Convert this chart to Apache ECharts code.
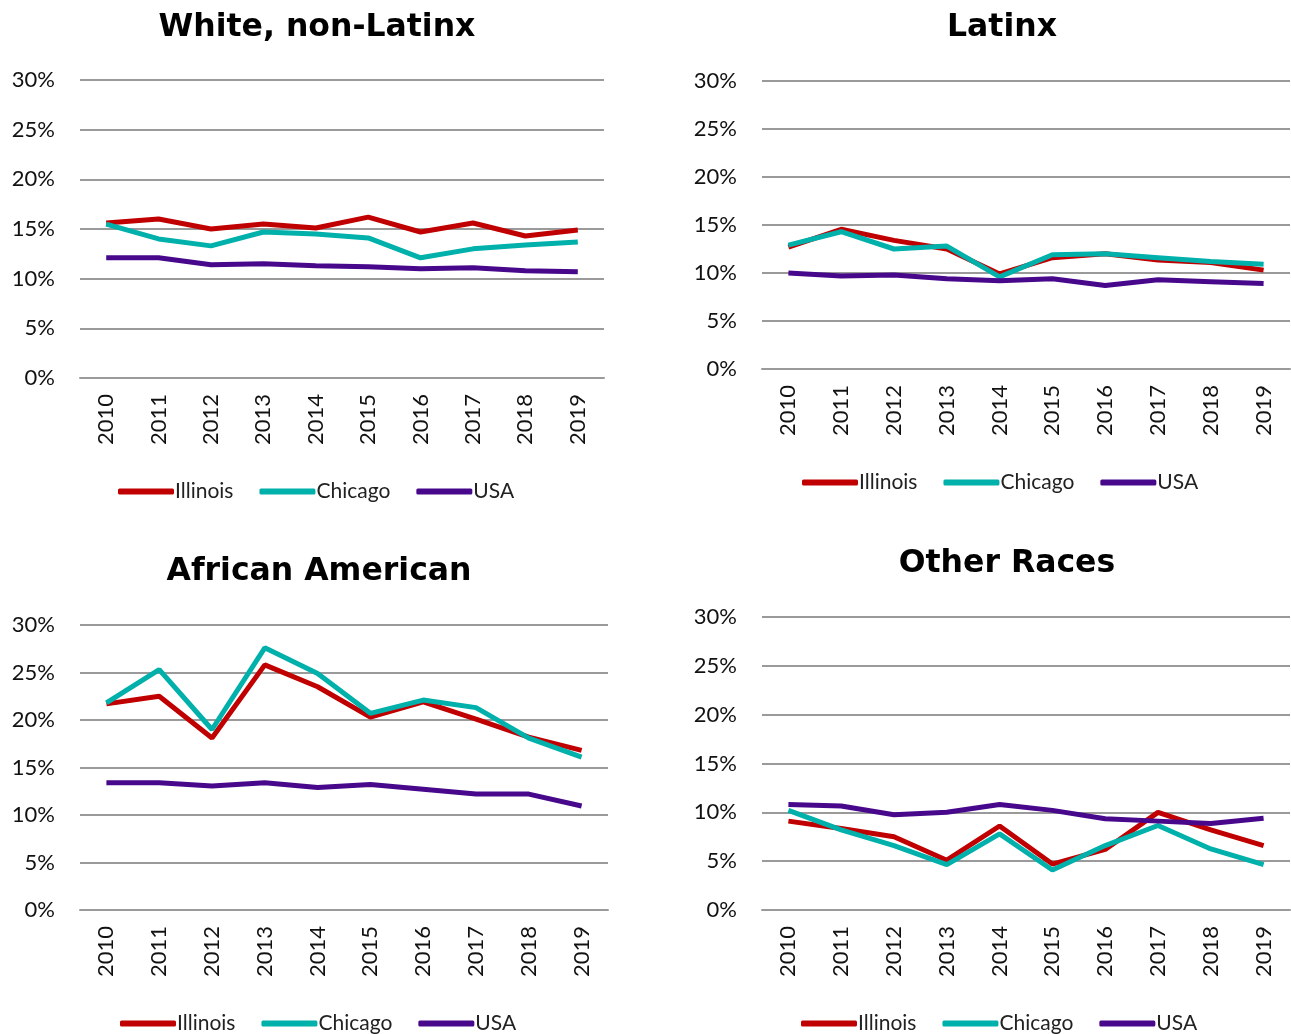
<!DOCTYPE html>
<html>
<head>
<meta charset="utf-8">
<script src="https://cdn.jsdelivr.net/npm/echarts@6/dist/echarts.min.js"></script>
<style>
  html, body { margin: 0; padding: 0; background: #fff; }
  #main { width: 1291px; height: 1034px; }
</style>
</head>
<body>
<div id="main"></div>
<script>
// data (percent)
const years = ['2010', '2011', '2012', '2013', '2014', '2015', '2016', '2017', '2018', '2019'];
const seriesNames = ['Illinois', 'Chicago', 'USA'];
const panelTitles = ['White, non-Latinx', 'Latinx', 'African American', 'Other Races'];

const whiteIllinois = [15.6, 16.0, 15.0, 15.5, 15.1, 16.2, 14.7, 15.6, 14.3, 14.9];
const whiteChicago = [15.5, 14.0, 13.3, 14.7, 14.5, 14.1, 12.1, 13.0, 13.4, 13.7];
const whiteUSA = [12.1, 12.1, 11.4, 11.5, 11.3, 11.2, 11.0, 11.1, 10.8, 10.7];

const latinxIllinois = [12.7, 14.55, 13.4, 12.5, 9.9, 11.6, 12.0, 11.35, 11.1, 10.3];
const latinxChicago = [12.9, 14.3, 12.5, 12.8, 9.6, 11.9, 12.0, 11.6, 11.2, 10.9];
const latinxUSA = [10.0, 9.7, 9.8, 9.4, 9.2, 9.4, 8.7, 9.3, 9.1, 8.9];

const africanIllinois = [21.7, 22.5, 18.1, 25.8, 23.5, 20.3, 21.9, 20.1, 18.2, 16.8];
const africanChicago = [21.8, 25.3, 19.0, 27.6, 24.9, 20.7, 22.1, 21.3, 18.1, 16.1];
const africanUSA = [13.4, 13.4, 13.05, 13.4, 12.9, 13.2, 12.7, 12.2, 12.2, 10.95];

const otherIllinois = [9.1, 8.35, 7.5, 5.1, 8.6, 4.7, 6.2, 10.0, 8.2, 6.6];
const otherChicago = [10.2, 8.2, 6.6, 4.65, 7.8, 4.1, 6.6, 8.65, 6.25, 4.65];
const otherUSA = [10.8, 10.65, 9.75, 10.0, 10.8, 10.2, 9.35, 9.1, 8.85, 9.4];

const yTicks = [0, 5, 10, 15, 20, 25, 30];

const panelData = [
    [whiteIllinois, whiteChicago, whiteUSA],
    [latinxIllinois, latinxChicago, latinxUSA],
    [africanIllinois, africanChicago, africanUSA],
    [otherIllinois, otherChicago, otherUSA]
];

const colors = ['#C00000', '#00B0AA', '#48088C'];
const font = 'Lato, "Open Sans", sans-serif';
const titleFont = '"DejaVu Sans", Verdana, sans-serif';

// plot areas: left, top, width, height
const grids = [
    { left: 80, top: 80, width: 524, height: 298 },
    { left: 762, top: 81, width: 528, height: 288 },
    { left: 80, top: 625, width: 528, height: 285 },
    { left: 762, top: 617, width: 528, height: 293 }
];
const titlePos = [
    { x: 312, y: 7 },
    { x: 997, y: 7 },
    { x: 314, y: 551 },
    { x: 1002, y: 543 }
];
const legendPos = [
    { left: 113, top: 476 },
    { left: 797, top: 467 },
    { left: 115, top: 1008 },
    { left: 796, top: 1008 }
];

const option = {
    animation: false,
    backgroundColor: '#fff',
    title: [],
    legend: [],
    grid: [],
    xAxis: [],
    yAxis: [],
    series: []
};

panelTitles.forEach((t, i) => {
    option.title.push({
        text: t,
        left: titlePos[i].x,
        top: titlePos[i].y,
        textAlign: 'center',
        textStyle: { fontFamily: titleFont, fontWeight: 'bold', fontSize: 31.5, color: '#000' }
    });
    option.legend.push({
        data: seriesNames,
        left: legendPos[i].left,
        top: legendPos[i].top,
        icon: 'roundRect',
        itemWidth: 56,
        itemHeight: 6,
        itemGap: 26,
        textStyle: { fontFamily: font, fontSize: 21, color: '#222', padding: [0, 0, 0, -4] }
    });
    option.grid.push(Object.assign({ containLabel: false }, grids[i]));
    option.xAxis.push({
        type: 'category',
        gridIndex: i,
        data: years,
        boundaryGap: true,
        axisLine: { show: true, lineStyle: { color: '#9a9a9a', width: 2 } },
        axisTick: { show: false },
        axisLabel: { rotate: 90, fontFamily: font, fontSize: 22, color: '#111', margin: 16 }
    });
    option.yAxis.push({
        type: 'value',
        gridIndex: i,
        min: yTicks[0],
        max: yTicks[yTicks.length - 1],
        interval: 5,
        axisLine: { show: false },
        axisTick: { show: false },
        splitLine: { lineStyle: { color: '#9a9a9a', width: 2 } },
        axisLabel: { formatter: '{value}%', fontFamily: font, fontSize: 22, color: '#111', margin: 25 }
    });
    seriesNames.forEach((name, k) => {
        option.series.push({
            name: name,
            type: 'line',
            xAxisIndex: i,
            yAxisIndex: i,
            data: panelData[i][k],
            symbol: 'none',
            color: colors[k],
            lineStyle: { width: 5, color: colors[k] },
            z: 3 + k
        });
    });
});

const myChart = echarts.init(document.getElementById('main'));
myChart.setOption(option);
</script>
</body>
</html>
